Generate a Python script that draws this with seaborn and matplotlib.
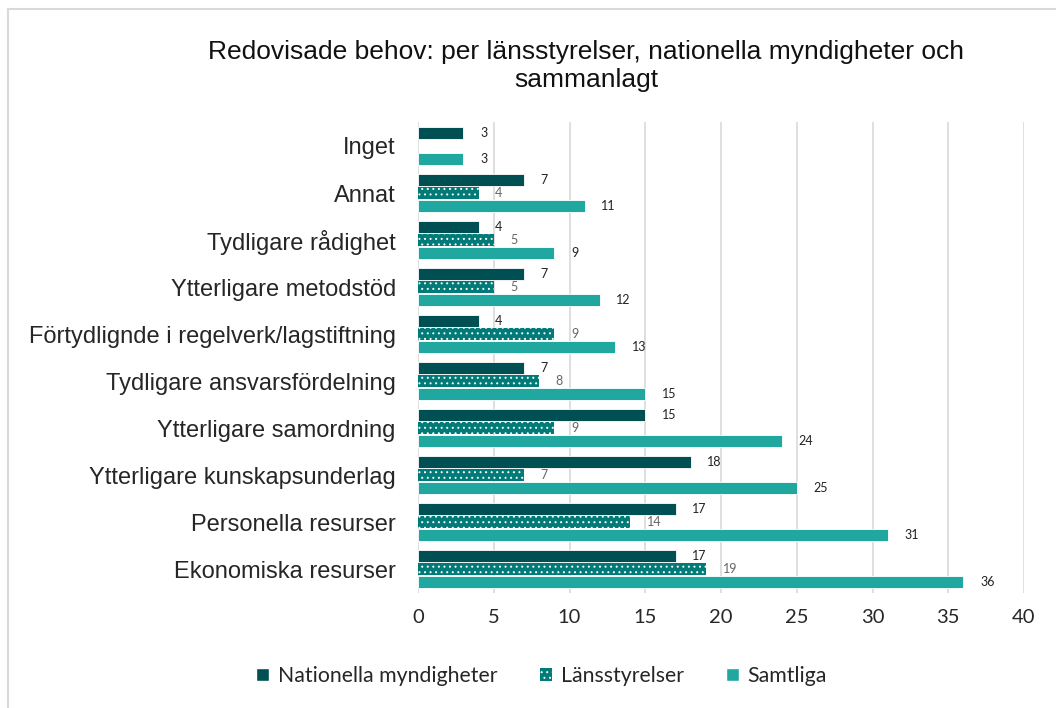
import matplotlib
matplotlib.use("Agg")
import matplotlib.pyplot as plt
from matplotlib.lines import Line2D
from matplotlib.patches import Patch
import seaborn as sns
import pandas as pd
import numpy as np

categories = ["Inget", "Annat", "Tydligare rådighet", "Ytterligare metodstöd",
              "Förtydlignde i regelverk/lagstiftning", "Tydligare ansvarsfördelning",
              "Ytterligare samordning", "Ytterligare kunskapsunderlag",
              "Personella resurser", "Ekonomiska resurser"]
series = ["Nationella myndigheter", "Länsstyrelser", "Samtliga"]
nationella = [3, 7, 4, 7, 4, 7, 15, 18, 17, 17]
lansstyrelser = [0, 4, 5, 5, 9, 8, 9, 7, 14, 19]
samtliga = [3, 11, 9, 12, 13, 15, 24, 25, 31, 36]
xticks = [0, 5, 10, 15, 20, 25, 30, 35, 40]
title = "Redovisade behov: per länsstyrelser, nationella myndigheter och\nsammanlagt"

colors = ["#004F52", "#007B78", "#20A8A0"]

df = pd.DataFrame({
    "Kategori": categories * 3,
    "Serie": [series[0]] * 10 + [series[1]] * 10 + [series[2]] * 10,
    "Värde": nationella + lansstyrelser + samtliga,
})

sns.set_theme(style="white")
plt.rcParams["font.family"] = ["Liberation Sans", "DejaVu Sans"]
plt.rcParams["hatch.linewidth"] = 0.7

fig = plt.figure(figsize=(10.56, 7.08), dpi=100)
ax = fig.add_axes([418 / 1056, 0.163, 606 / 1056, 0.664])

sns.barplot(data=df, y="Kategori", x="Värde", hue="Serie", orient="h",
            palette=colors, order=categories, hue_order=series,
            width=0.82, gap=0.04, ax=ax, legend=False, saturation=1)

label_colors = ["#222222", "#666666", "#222222"]
for i, cont in enumerate(ax.containers):
    for bar, v in zip(cont, [nationella, lansstyrelser, samtliga][i]):
        if i == 1:
            bar.set_hatch("...")
            bar.set_edgecolor("white")
            bar.set_linewidth(0)
        else:
            bar.set_edgecolor("white")
            bar.set_linewidth(0.6)
        if v > 0:
            ax.text(v + 1.1, bar.get_y() + bar.get_height() / 2,
                    str(v), va="center", ha="left", fontsize=9,
                    family=["Lato", "DejaVu Sans"], color=label_colors[i])

ax.set_xlim(0, 40)
ax.set_xticks(xticks)
ax.set_xticklabels([str(t) for t in xticks], family=["Lato", "DejaVu Sans"], fontsize=14.5)
ax.set_ylim(len(categories) - 0.5, -0.5)
ax.tick_params(axis="y", labelsize=17, length=0, pad=16)
ax.tick_params(axis="x", length=0, pad=12)
ax.set_xlabel("")
ax.set_ylabel("")
ax.xaxis.grid(True, color="#D9D9D9", linewidth=1.2)
ax.set_axisbelow(True)
for s in ax.spines.values():
    s.set_visible(False)

fig.text(586 / 1056, 1 - 66 / 708, title, ha="center", va="center", fontsize=19,
         linespacing=1.2, color="#111111")

handles = [Patch(facecolor=colors[0]),
           Patch(facecolor=colors[1], hatch="...", edgecolor="white", linewidth=0),
           Patch(facecolor=colors[2])]
leg = fig.legend(handles, series, loc="center", bbox_to_anchor=(0.513, 1 - 676 / 708),
                 ncol=3, frameon=False, handlelength=0.6, handleheight=0.6,
                 handletextpad=0.4, columnspacing=2.0,
                 prop={"family": ["Lato", "DejaVu Sans"], "size": 15.3})

fig.add_artist(Line2D([8 / 1056, 8 / 1056], [0, 1 - 9 / 708], color="#D9D9D9",
                      linewidth=1.5, transform=fig.transFigure))
fig.add_artist(Line2D([8 / 1056, 1], [1 - 9 / 708, 1 - 9 / 708], color="#D9D9D9",
                      linewidth=1.5, transform=fig.transFigure))

fig.savefig("out.png", dpi=100)
